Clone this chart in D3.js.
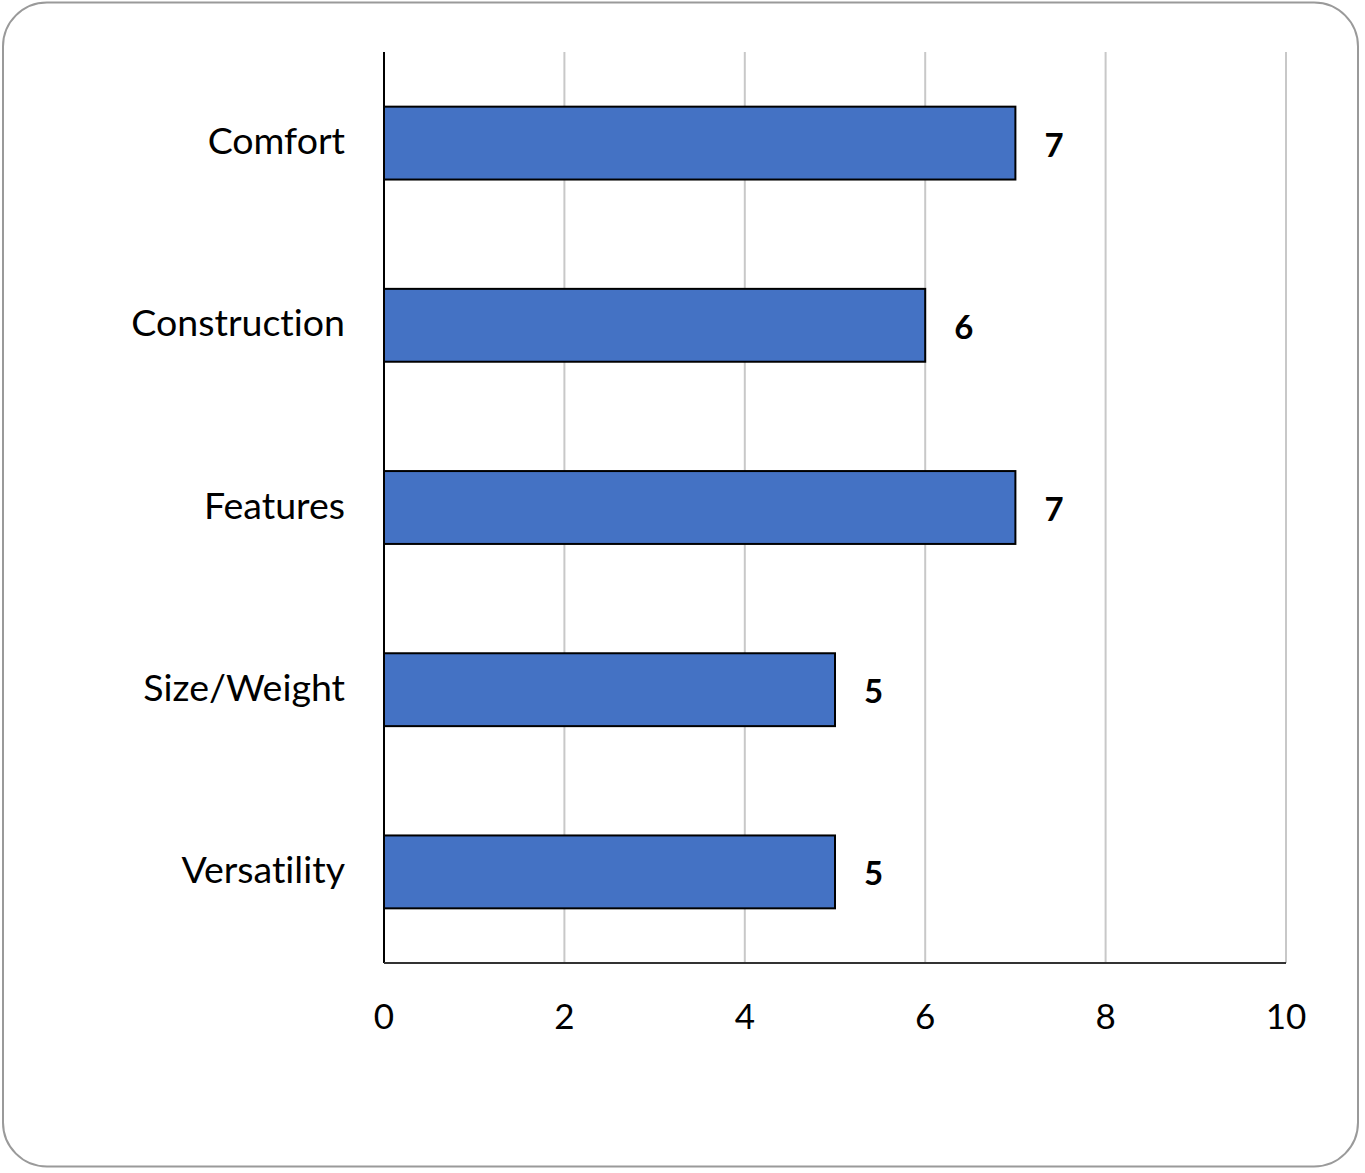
<!DOCTYPE html>
<html><head><meta charset="utf-8">
<script src="https://cdn.jsdelivr.net/npm/d3@7/dist/d3.min.js"></script>
<style>body{margin:0;background:#fff}svg{display:block}text{font-variant-ligatures:none;font-feature-settings:"liga" 0}</style>
</head><body>
<script>
const categories = ["Comfort","Construction","Features","Size/Weight","Versatility"];
const values = [7,6,7,5,5];
const tickValues = [0,2,4,6,8,10];

(function(){
const W = 1365, H = 1173;
const svg = d3.select("body").append("svg").attr("width", W).attr("height", H);
const font = "Lato, 'Open Sans', sans-serif";

svg.append("rect").attr("x",3).attr("y",2.5).attr("width",1355).attr("height",1164)
  .attr("rx",44).attr("ry",44).attr("fill","#fff").attr("stroke","#9a9a9a").attr("stroke-width",2);

const pL = 384, pR = 1286, pT = 52, pB = 963;
const x = d3.scaleLinear().domain([0,10]).range([pL,pR]);
const y = d3.scaleBand().domain(categories).range([pT,pB]).paddingInner(0.6).paddingOuter(0.3);

svg.append("g").selectAll("line").data(tickValues.filter(d=>d>0)).join("line")
  .attr("x1",d=>x(d)).attr("x2",d=>x(d)).attr("y1",pT).attr("y2",pB)
  .attr("stroke","#c8c8c8").attr("stroke-width",2);

svg.append("g").selectAll("rect").data(categories).join("rect")
  .attr("x",x(0)).attr("y",d=>y(d))
  .attr("width",(d,i)=>x(values[i])-x(0)).attr("height",y.bandwidth())
  .attr("fill","#4472c4").attr("stroke","#000").attr("stroke-width",2);

svg.append("line").attr("x1",pL).attr("x2",pL).attr("y1",pT).attr("y2",pB)
  .attr("stroke","#000").attr("stroke-width",2);
svg.append("line").attr("x1",pL).attr("x2",pR).attr("y1",pB).attr("y2",pB)
  .attr("stroke","#333").attr("stroke-width",2);

svg.append("g").selectAll("text").data(categories).join("text")
  .attr("x",345).attr("y",d=>y(d)+y.bandwidth()/2-2)
  .attr("dy","0.35em").attr("text-anchor","end")
  .attr("font-family",font).attr("font-size",37.5).attr("fill","#000").text(d=>d);

svg.append("g").selectAll("text").data(categories).join("text")
  .attr("x",(d,i)=>x(values[i])+29).attr("y",d=>y(d)+y.bandwidth()/2+2)
  .attr("dy","0.35em").attr("text-anchor","start")
  .attr("font-family",font).attr("font-weight","bold").attr("font-size",33).attr("fill","#000")
  .text((d,i)=>values[i]);

svg.append("g").selectAll("text").data(tickValues).join("text")
  .attr("x",d=>x(d)).attr("y",1017).attr("dy","0.35em").attr("text-anchor","middle")
  .attr("font-family",font).attr("font-size",35).attr("fill","#000").text(d=>d);
})();
</script>
</body></html>
